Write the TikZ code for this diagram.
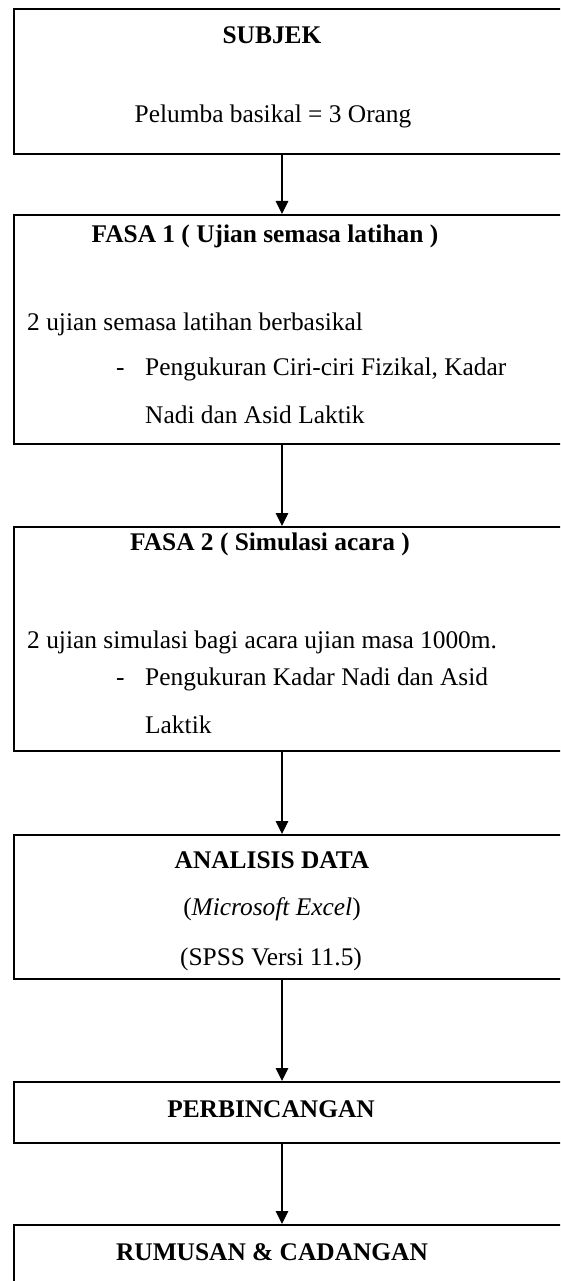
\documentclass[tikz,border=0pt]{standalone}
\usepackage{fontspec}
\setmainfont{Liberation Serif}
\usetikzlibrary{arrows.meta}
\begin{document}
\begin{tikzpicture}[x=1pt,y=-1pt,
  box/.style={draw=black,line width=1.7pt,rectangle,anchor=north west,minimum width=580pt,inner sep=0pt},
  txt/.style={inner sep=0pt,font=\fontsize{25.4}{30}\selectfont},
  ttl/.style={txt,font=\fontsize{25.4}{30}\selectfont\bfseries,anchor=base},
  ctr/.style={txt,anchor=base},
  lft/.style={txt,anchor=base west},
  arr/.style={draw=black,line width=1.2pt,-{Triangle[width=12.5pt,length=13pt]}}]
\clip (0,0) rectangle (560,1281);
\fill[white] (0,0) rectangle (560,1281);
\coordinate (ax) at (282,0);
% boxes
\node[box,minimum height=145pt] (b1) at (13,8) {};
\node[box,minimum height=229pt] (b2) at (13,214) {};
\node[box,minimum height=224pt] (b3) at (13,526) {};
\node[box,minimum height=144pt] (b4) at (13,834) {};
\node[box,minimum height=61pt] (b5) at (13,1081) {};
\node[box,minimum height=120pt] (b6) at (13,1224) {};
% texts
\node[ttl] (t1a) at (272,44) {SUBJEK};
\node[ctr] (t1b) at (273,123) {Pelumba basikal = 3 Orang};
\node[ttl] (t2a) at (265,243) {FASA 1 ( Ujian semasa latihan )};
\node[lft] (t2b) at (27,330) {2 ujian semasa latihan berbasikal};
\node[lft] (t2c) at (116,375) {-};
\node[lft] (t2d) at (145,375) {Pengukuran Ciri-ciri Fizikal, Kadar};
\node[lft] (t2e) at (145,423) {Nadi dan Asid Laktik};
\node[ttl] (t3a) at (270,550) {FASA 2 ( Simulasi acara )};
\node[lft] (t3b) at (27,648) {2 ujian simulasi bagi acara ujian masa 1000m.};
\node[lft] (t3c) at (116,685) {-};
\node[lft] (t3d) at (145,685) {Pengukuran Kadar Nadi dan Asid};
\node[lft] (t3e) at (145,733) {Laktik};
\node[ttl] (t4a) at (272,868) {ANALISIS DATA};
\node[ctr] (t4b) at (272,915) {(\textit{Microsoft Excel})};
\node[ctr] (t4c) at (271,965) {(SPSS Versi 11.5)};
\node[ttl] (t5) at (271,1117) {PERBINCANGAN};
\node[ttl] (t6) at (272,1260) {RUMUSAN \& CADANGAN};
% connectors
\draw[arr] (b1.south -| ax) -- (b2.north -| ax);
\draw[arr] (b2.south -| ax) -- (b3.north -| ax);
\draw[arr] (b3.south -| ax) -- (b4.north -| ax);
\draw[arr] (b4.south -| ax) -- (b5.north -| ax);
\draw[arr] (b5.south -| ax) -- (b6.north -| ax);
\end{tikzpicture}
\end{document}
